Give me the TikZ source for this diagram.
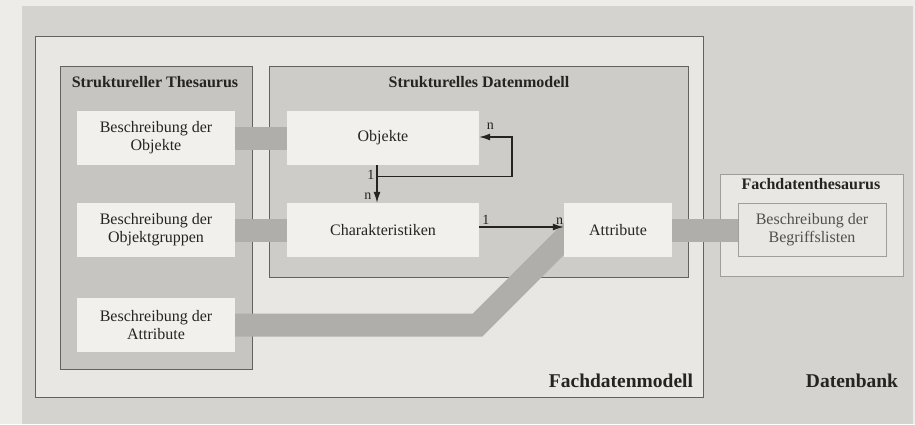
\documentclass[tikz,border=0pt]{standalone}
\usepackage{fontspec}
\setmainfont{Liberation Serif}
\usetikzlibrary{arrows.meta}
\pgfdeclarelayer{background}
\pgfsetlayers{background,main}

\definecolor{paper}{RGB}{238,236,232}
\definecolor{dbgray}{RGB}{213,211,207}
\definecolor{light}{RGB}{233,231,227}
\definecolor{midgray}{RGB}{199,197,193}
\definecolor{midgray2}{RGB}{206,204,200}
\definecolor{boxfill}{RGB}{242,240,237}
\definecolor{bandgray}{RGB}{176,174,170}
\definecolor{edge}{RGB}{100,98,95}
\definecolor{edgelight}{RGB}{160,158,155}
\definecolor{ink}{RGB}{38,36,34}

\tikzset{
  field/.style={fill=boxfill, minimum width=158pt, minimum height=54pt,
    align=center, inner sep=0pt, font=\fontsize{16}{18}\selectfont, text=ink},
  area/.style={draw=edge, line width=0.8pt},
  title/.style={font=\fontsize{16}{18}\selectfont\bfseries, text=ink},
  bigtitle/.style={font=\fontsize{19.5}{22}\selectfont\bfseries, text=ink},
  band/.style={draw=bandgray, line width=23pt},
  rel/.style={-{Latex[length=11pt,width=7pt]}, line width=1.3pt, draw=ink},
  mult/.style={font=\fontsize{14}{16}\selectfont, text=ink, inner sep=2pt},
}

\begin{document}
\begin{tikzpicture}[x=1pt, y=-1pt]
  % inner boxes
  \node[field] (bdo) at (156,138) {Beschreibung der\\Objekte};
  \node[field] (bdog) at (156,230) {Beschreibung der\\Objektgruppen};
  \node[field] (bda) at (156,325) {Beschreibung der\\Attribute};
  \node[field, minimum width=192pt] (obj) at (383,138) {Objekte};
  \node[field, minimum width=192pt] (char) at (383,230) {Charakteristiken};
  \node[field, minimum width=108pt] (attr) at (618,230) {Attribute};
  \node[field, draw=edgelight, line width=0.6pt, minimum width=148pt,
    minimum height=53pt, fill=light, text=ink!80] (begr) at (812,230)
    {Beschreibung der\\Begriffslisten};

  % titles
  \node[title] (thes) at (155,82) {Struktureller Thesaurus};
  \node[title] (sdm) at (479,82) {Strukturelles Datenmodell};
  \node[title] (fdt) at (811,184) {Fachdatenthesaurus};
  \node[bigtitle] (fdm) at (621,381) {Fachdatenmodell};
  \node[bigtitle] (db) at (852,381) {Datenbank};

  % relations
  \coordinate (split) at ([xshift=-6pt,yshift=-11pt]obj.south);
  \draw[rel] ([xshift=-6pt]obj.south) -- ([xshift=-6pt]char.north)
    node[mult, pos=0.25, left] {1} node[mult, pos=0.82, left=3pt] {n};
  \draw[rel] (split) -- ++(135,0) |- ([yshift=1pt]obj.east)
    node[mult, above right=5pt] {n};
  \draw[rel] ([yshift=3pt]char.east) -- ([yshift=3pt]attr.west)
    node[mult, pos=0.08, above] {1} node[mult, pos=0.95, above] {n};

  \begin{pgfonlayer}{background}
    \fill[paper] (0,0) rectangle (915,424);
    \fill[dbgray] (22,6) rectangle (913,424);
    \draw[area, fill=light] (35,36) rectangle (703,397);
    \draw[area, fill=midgray] (60,66) rectangle (252,369);
    \draw[area, fill=midgray2] (269,66) rectangle (688,277);
    \draw[area, draw=edgelight, fill=light] (720,174) rectangle (903,276);
    % links
    \coordinate (bend) at (477.5,325);
    \draw[band] (bdo.east) -- (obj.west);
    \draw[band] (bdog.east) -- (char.west);
    \draw[band, line join=miter] (bda.east) -- (bend)
      -- ([xshift=16pt,yshift=34.5pt]attr.south west);
    \draw[band] (attr.east) -- (begr.west);
  \end{pgfonlayer}
\end{tikzpicture}
\end{document}
